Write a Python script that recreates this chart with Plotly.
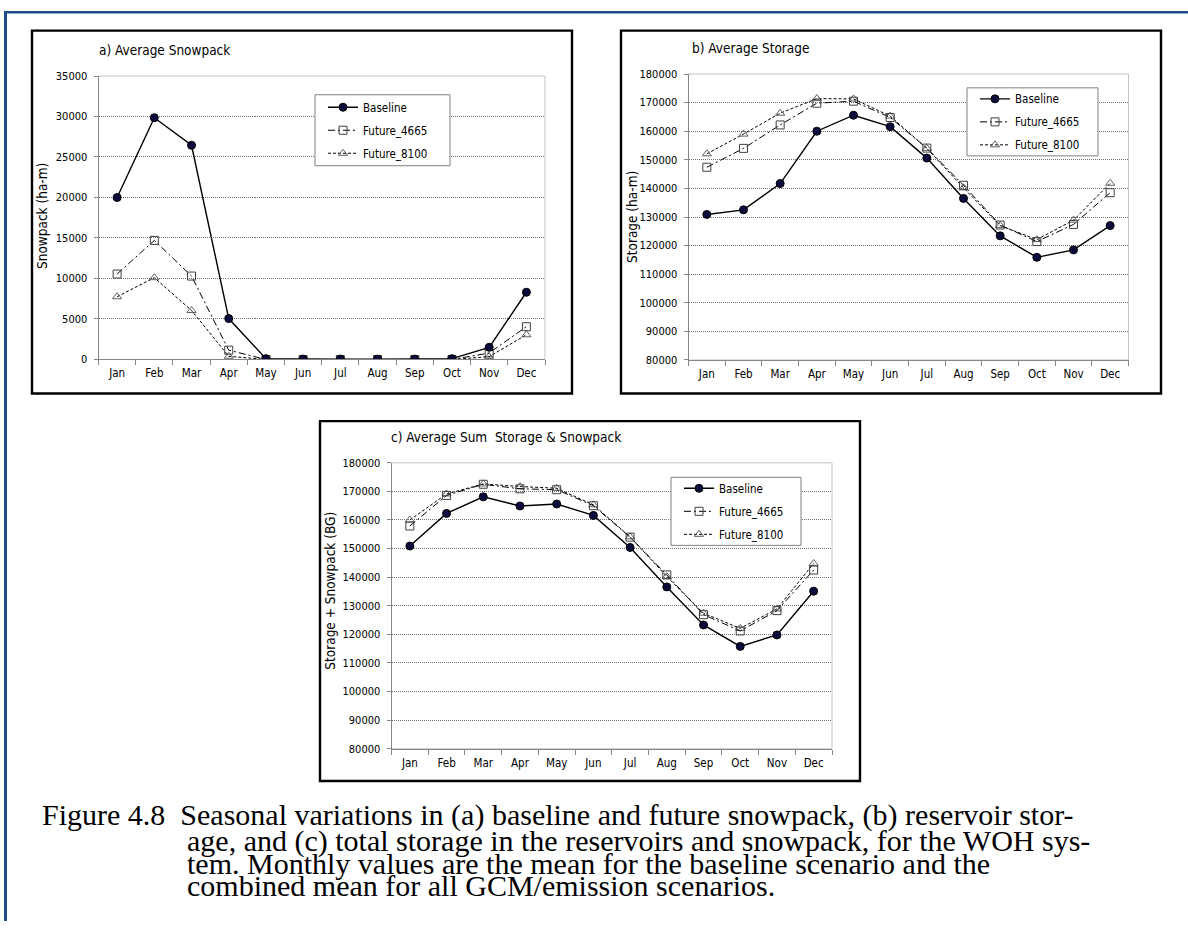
import plotly.graph_objects as go

W, H = 1188, 928

months = ["Jan", "Feb", "Mar", "Apr", "May", "Jun", "Jul", "Aug", "Sep", "Oct", "Nov", "Dec"]
series_names = ["Baseline", "Future_4665", "Future_8100"]

# a) Average Snowpack (ha-m)
snow_baseline = [20000, 29850, 26450, 5050, 100, 50, 50, 50, 50, 100, 1500, 8300]
snow_f4665 = [10550, 14700, 10300, 1150, 0, 0, 0, 0, 0, 0, 800, 4050]
snow_f8100 = [7750, 10100, 6050, 400, 0, 0, 0, 0, 0, 0, 350, 3050]

# b) Average Storage (ha-m)
stor_baseline = [130900, 132500, 141700, 160000, 165600, 161600, 150600, 136500, 123400, 115900, 118500, 127000]
stor_f4665 = [147400, 154000, 162200, 169800, 170500, 164800, 154100, 141100, 127200, 121400, 127400, 138500]
stor_f8100 = [152100, 159000, 166300, 171400, 171300, 165300, 154000, 140200, 127000, 122100, 128900, 141800]

# c) Average Sum Storage & Snowpack
sum_baseline = [150900, 162300, 168100, 164900, 165600, 161600, 150400, 136600, 123300, 115800, 119800, 135100]
sum_f4665 = [157900, 168600, 172500, 170900, 170600, 165000, 154000, 140800, 126900, 121200, 128300, 142500]
sum_f8100 = [160000, 169100, 172600, 171700, 171100, 165300, 154100, 140200, 127400, 122100, 128900, 144800]

panel_titles = ["a) Average Snowpack", "b) Average Storage", "c) Average Sum  Storage & Snowpack"]
axis_titles = ["Snowpack (ha-m)", "Storage (ha-m)", "Storage + Snowpack (BG)"]
caption_lines = [
    "Figure 4.8  Seasonal variations in (a) baseline and future snowpack, (b) reservoir stor-",
    "age, and (c) total storage in the reservoirs and snowpack, for the WOH sys-",
    "tem. Monthly values are the mean for the baseline scenario and the",
    "combined mean for all GCM/emission scenarios.",
]

FONT = "Tahoma, 'DejaVu Sans Condensed', 'Liberation Sans', sans-serif"
SERIF = "'Liberation Serif', 'Times New Roman', serif"


def px(x):
    return x / W


def py(y):
    return 1 - y / H


# layout geometry in pixels
panels = [
    dict(frame=(32, 25, 572, 393), plot=(98.5, 71, 545, 358.5), yr=(0, 35000), dt=5000,
         title=(97, 45), ytitle=(42, 213), legbox=(315, 90, 450, 162)),
    dict(frame=(621, 25, 1161, 393), plot=(688.5, 69, 1128.5, 359), yr=(80000, 180000), dt=10000,
         title=(690, 43), ytitle=(632, 214), legbox=(967, 83, 1098, 152)),
    dict(frame=(320, 421, 860, 786), plot=(391.5, 463.3, 832, 753.3), yr=(80000, 180000), dt=10000,
         title=(389, 437), ytitle=(330, 593), legbox=(671, 478, 801, 547)),
]

data = [
    (snow_baseline, snow_f4665, snow_f8100),
    (stor_baseline, stor_f4665, stor_f8100),
    (sum_baseline, sum_f4665, sum_f8100),
]

styles = {
    "Baseline": dict(line=dict(color="black", width=1.4, dash="solid"),
                     marker=dict(symbol="circle", size=8, color="#0b0b3b",
                                 line=dict(color="black", width=1))),
    "Future_4665": dict(line=dict(color="black", width=1, dash="7px,3px,2px,3px"),
                        marker=dict(symbol="square-open", size=8, color="#404040",
                                    line=dict(width=1))),
    "Future_8100": dict(line=dict(color="black", width=1, dash="3px,2px"),
                        marker=dict(symbol="triangle-up-open", size=8, color="#606060",
                                    line=dict(width=1))),
}

fig = go.Figure()
shapes = []
annotations = []
layout = {}

for i, (p, vals) in enumerate(zip(panels, data)):
    n = "" if i == 0 else str(i + 1)
    xref, yref = "x" + n, "y" + n
    legname = "legend" + n
    # draw future series first, baseline on top
    for k in [2, 1, 0]:
        name = series_names[k]
        st = styles[name]
        fig.add_trace(go.Scatter(
            x=months, y=vals[k], name=name, mode="lines+markers",
            line=st["line"], marker=st["marker"],
            xaxis=xref, yaxis=yref, legend=legname, legendgroup=name + n,
            legendrank=k + 1, showlegend=True,
        ))
    x0, y0, x1, y1 = p["plot"]
    layout["xaxis" + n] = dict(
        domain=[px(x0), px(x1)], anchor=yref, type="category",
        range=[-0.5, 11.5], showline=True, linecolor="#868686", linewidth=1,
        ticks="outside", tickson="boundaries", ticklen=5, tickcolor="#868686",
        ticklabelstandoff=3,
        showgrid=False, zeroline=False, tickfont=dict(size=11.5, color="black", family=FONT),
        fixedrange=True,
    )
    layout["yaxis" + n] = dict(
        domain=[py(y1), py(y0)], anchor=xref, range=list(p["yr"]), dtick=p["dt"],
        tick0=p["yr"][0], tickformat="d", showline=True, linecolor="#868686", linewidth=1,
        ticks="outside", ticklen=4, tickcolor="#868686", ticklabelstandoff=4,
        showgrid=True, gridcolor="#707070", griddash="1px,1px", gridwidth=1, zeroline=False,
        tickfont=dict(size=11, color="black", family=FONT), fixedrange=True,
    )
    # plot area border (light)
    shapes.append(dict(type="rect", xref=xref + " domain", yref=yref + " domain",
                       x0=0, x1=1, y0=0, y1=1, line=dict(color="#c4c4c4", width=1),
                       layer="below"))
    # chart frame
    fx0, fy0, fx1, fy1 = p["frame"]
    shapes.append(dict(type="rect", xref="paper", yref="paper",
                       x0=px(fx0), x1=px(fx1), y0=py(fy1), y1=py(fy0),
                       line=dict(color="black", width=2.4)))
    # legend box
    lx0, ly0, lx1, ly1 = p["legbox"]
    shapes.append(dict(type="rect", xref="paper", yref="paper",
                       x0=px(lx0), x1=px(lx1), y0=py(ly1), y1=py(ly0),
                       line=dict(color="#808080", width=1), fillcolor="white", layer="above"))
    layout[legname] = dict(
        x=px(lx0 + 8), y=py((ly0 + ly1) / 2), xanchor="left", yanchor="middle",
        bgcolor="rgba(0,0,0,0)", borderwidth=0, tracegroupgap=4, traceorder="grouped",
        itemwidth=30, font=dict(size=11.5, color="black", family=FONT),
    )
    # titles
    tx, ty = p["title"]
    annotations.append(dict(text=panel_titles[i], x=px(tx), y=py(ty), xref="paper", yref="paper",
                            xanchor="left", yanchor="middle", showarrow=False,
                            font=dict(size=13.5, color="black", family=FONT)))
    ax, ay = p["ytitle"]
    annotations.append(dict(text=axis_titles[i], x=px(ax), y=py(ay), xref="paper", yref="paper",
                            xanchor="center", yanchor="middle", showarrow=False, textangle=-90,
                            font=dict(size=13.5, color="black", family=FONT)))

# page border (blue)
shapes.append(dict(type="rect", xref="paper", yref="paper", x0=px(4), x1=px(7), y0=0, y1=py(5),
                   line=dict(width=0), fillcolor="#1f4e87"))
shapes.append(dict(type="rect", xref="paper", yref="paper", x0=px(4), x1=1, y0=py(7.5), y1=py(5),
                   line=dict(width=0), fillcolor="#1f4e87"))

# caption
cap_pos = [(40, 820), (185, 847), (185, 870), (185, 892)]
for (cx, cy), txt in zip(cap_pos, caption_lines):
    annotations.append(dict(text=txt, x=px(cx), y=py(cy), xref="paper", yref="paper",
                            xanchor="left", yanchor="middle", showarrow=False,
                            font=dict(size=30, color="black", family=SERIF)))

fig.update_layout(
    width=W, height=H, margin=dict(l=0, r=0, t=0, b=0),
    paper_bgcolor="white", plot_bgcolor="white",
    shapes=shapes, annotations=annotations, font=dict(family=FONT, color="black"),
    **layout,
)

fig.write_html("out.html", config=dict(displayModeBar=False))
